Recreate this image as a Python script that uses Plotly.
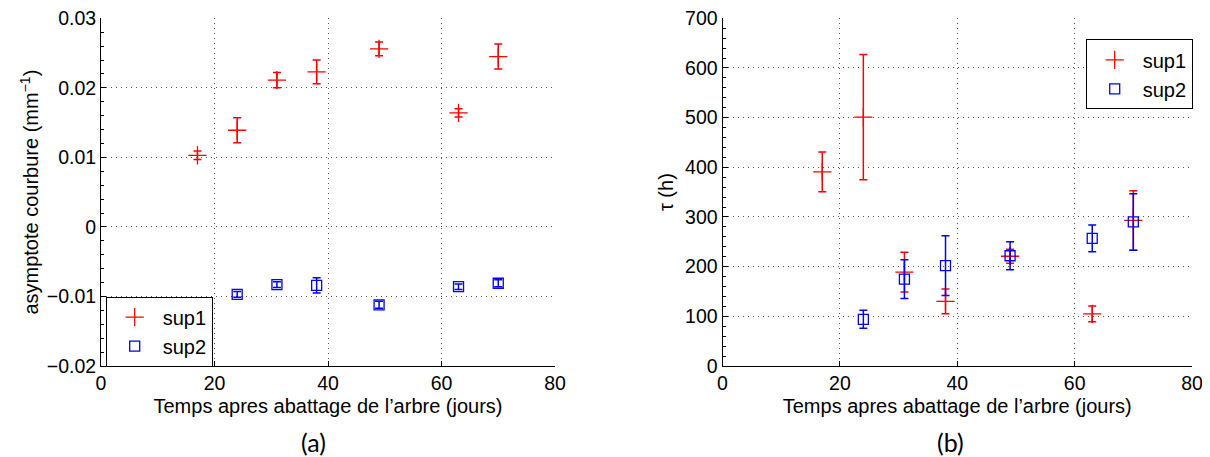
import plotly.graph_objects as go

# ---- data ----
days_sup1 = [17, 24, 31, 38, 49, 63, 70]
days_sup2 = [24, 31, 38, 49, 63, 70]

asym_sup1 = [0.0103, 0.0139, 0.0211, 0.0223, 0.0256, 0.0164, 0.0245]
asym_sup1_err = [0.0006, 0.0018, 0.0011, 0.0017, 0.0010, 0.0006, 0.0018]
asym_sup2 = [-0.0097, -0.0083, -0.0084, -0.0112, -0.0086, -0.0081]
asym_sup2_err = [0.0004, 0.0004, 0.0011, 0.0005, 0.0004, 0.0005]

tau_sup1 = [391, 501, 189, 130, 221, 105, 293]
tau_sup1_err = [40, 126, 40, 25, 14, 16, 60]
tau_sup2 = [94, 175, 202, 222, 257, 290]
tau_sup2_err = [18, 39, 60, 28, 27, 57]

x_ticks = [0, 20, 40, 60, 80]
asym_ticks = [-0.02, -0.01, 0, 0.01, 0.02, 0.03]
asym_ticklabels = ["\u22120.02", "\u22120.01", "0", "0.01", "0.02", "0.03"]
tau_ticks = [0, 100, 200, 300, 400, 500, 600, 700]

RED = "#ff0000"
BLUE = "#0000ff"
FONT = "Liberation Sans"
TICK_SIZE = 19.5
TITLE_SIZE = 20

fig = go.Figure()

def add_series(x, y, err, name, color, symbol, size, xa, ya, legend):
    fig.add_trace(go.Scatter(
        x=x, y=y, mode="markers", name=name,
        xaxis=xa, yaxis=ya, legend=legend, showlegend=True,
        marker=dict(symbol=symbol, size=size, color=color,
                    line=dict(color=color, width=1.3)),
        error_y=dict(type="data", array=err, visible=True,
                     color=color, thickness=1.5, width=4),
    ))

add_series(days_sup1, asym_sup1, asym_sup1_err, "sup1", RED, "cross-thin-open", 13, "x", "y", "legend")
add_series(days_sup2, asym_sup2, asym_sup2_err, "sup2", BLUE, "square-open", 10, "x", "y", "legend")
add_series(days_sup1, tau_sup1, tau_sup1_err, "sup1", RED, "cross-thin-open", 13, "x2", "y2", "legend2")
add_series(days_sup2, tau_sup2, tau_sup2_err, "sup2", BLUE, "square-open", 10, "x2", "y2", "legend2")

# page has an 8px body margin: draw the figure 8px smaller and shift positions
OFF = 8
W, H = 1210 - OFF, 457 - OFF
def px_x(p):
    return (p - OFF) / W
def px_y(p):
    return 1 - (p - OFF) / H

ydom = [px_y(366), px_y(18.3)]

axis_common = dict(
    showline=True, linecolor="black", linewidth=1, mirror=False,
    ticks="inside", ticklen=5, tickcolor="black", tickwidth=1,
    showgrid=True, gridcolor="#555555", griddash="1px,4px", gridwidth=1,
    zeroline=False, automargin=False, ticklabeloverflow="allow",
    tickfont=dict(family=FONT, size=TICK_SIZE, color="black"),
    title_font=dict(family=FONT, size=TITLE_SIZE, color="black"),
)

legend_common = dict(
    xanchor="left", yanchor="top",
    bgcolor="white", bordercolor="black", borderwidth=1,
    font=dict(family=FONT, size=TITLE_SIZE, color="black"),
    itemwidth=46, tracegroupgap=0,
)

fig.update_layout(
    width=W, height=H,
    margin=dict(l=0, r=0, t=0, b=0),
    paper_bgcolor="white", plot_bgcolor="white",
    font=dict(family=FONT, size=TICK_SIZE, color="black"),
    xaxis=dict(domain=[px_x(101), px_x(555)], range=[0, 80], tickvals=x_ticks,
               anchor="y",
               title=dict(text="Temps apres abattage de l\u2019arbre (jours)", standoff=5),
               **axis_common),
    yaxis=dict(domain=ydom, range=[-0.02, 0.03], tickvals=asym_ticks,
               ticktext=asym_ticklabels, anchor="x",
               minor=dict(ticks="inside", ticklen=3, tickcolor="black", dtick=0.002, showgrid=False),
               title=dict(text="asymptote courbure (mm<sup>\u22121</sup>)", standoff=2),
               **axis_common),
    xaxis2=dict(domain=[px_x(722.5), px_x(1192)], range=[0, 80], tickvals=x_ticks,
                anchor="y2",
                title=dict(text="Temps apres abattage de l\u2019arbre (jours)", standoff=5),
                **axis_common),
    yaxis2=dict(domain=ydom, range=[0, 700], tickvals=tau_ticks, anchor="x2",
                minor=dict(ticks="inside", ticklen=3, tickcolor="black", dtick=20, showgrid=False),
                title=dict(text="\u03c4 (h)", standoff=6),
                **axis_common),
    legend=dict(x=px_x(105.7), y=px_y(296.7), **legend_common),
    legend2=dict(x=px_x(1085.7), y=px_y(39.3), **legend_common),
    annotations=[
        dict(text="(a)", x=px_x(313), y=px_y(442), xref="paper", yref="paper",
             xanchor="center", yanchor="middle",
             showarrow=False, font=dict(family="Lato", size=25, color="black")),
        dict(text="(b)", x=px_x(950), y=px_y(442), xref="paper", yref="paper",
             xanchor="center", yanchor="middle",
             showarrow=False, font=dict(family="Lato", size=25, color="black")),
    ],
)

fig.write_html("out.html")
